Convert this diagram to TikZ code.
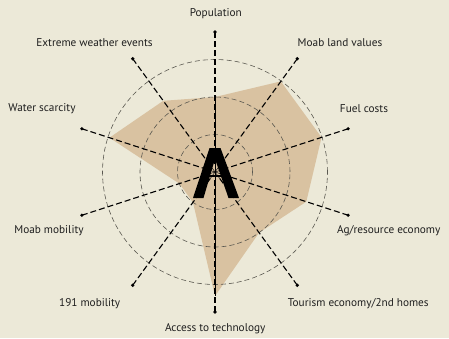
\documentclass[tikz,border=0pt]{standalone}
\usepackage{fontspec}
\setmainfont{PT Sans}
\definecolor{bgc}{RGB}{236,233,216}
\definecolor{polyc}{RGB}{217,194,161}
\definecolor{ringc}{RGB}{90,88,80}
\tikzset{
  ring/.style={draw=ringc, line width=0.6bp, dash pattern=on 5bp off 3bp},
  axisline/.style={draw=black, line width=1.1bp, dash pattern=on 6bp off 3bp},
  spoke/.style={draw=black, line width=0.45bp},
  enddot/.style={circle, fill=black, inner sep=0pt, minimum size=3.6bp},
  lbl/.style={font=\fontsize{11.3}{13}\selectfont, text=black!88, inner sep=0pt},
}
\begin{document}
\begin{tikzpicture}[x=1bp,y=1bp]
\useasboundingbox (-215,-166) rectangle (234,172);
\fill[bgc] (-215,-166) rectangle (234,172);
\coordinate (O) at (0,0);
% data polygon
\coordinate (p1) at (90:75);
\coordinate (p2) at (54:112);
\coordinate (p3) at (18:112);
\coordinate (p4) at (-18:96);
\coordinate (p5) at (-54:75);
\coordinate (p6) at (-90:124);
\coordinate (p7) at (-126:37.5);
\coordinate (p8) at (-162:37.5);
\coordinate (p9) at (162:111);
\coordinate (p10) at (126:88);
\fill[polyc] (p1) -- (p2) -- (p3) -- (p4) -- (p5) -- (p6) -- (p7) -- (p8) -- (p9) -- (p10) -- cycle;
% rings
\draw[ring] (O) circle (37.5);
\draw[ring] (O) circle (75);
\draw[ring] (O) circle (112.5);
% axis ends
\foreach \i/\a in {1/90,2/54,3/18,4/-18,5/-54,6/-90,7/-126,8/-162,9/162,10/126} {
  \coordinate (e\i) at (\a:140);
  \coordinate (s\i) at (\a:8);
}
\foreach \i in {1,...,10} {
  \draw[axisline] (e\i) -- (s\i);
  \draw[spoke] (O) -- (s\i);
}
\foreach \i in {1,...,10} {
  \node[enddot] (d\i) at (e\i) {};
}
\draw[black, line width=0.9bp] (p1) -- (p6);
% central A
\fill[black] (-22,-26) -- (-5.5,24) -- (5.5,24) -- (24,-26) -- (13.5,-26) -- (0,13) -- (-11.5,-26) -- cycle;
\draw[black, line width=2bp] (-6,-4) -- (6.8,-4);
% labels
\node[lbl] (l1) at (0.8,158) {Population};
\node[lbl] (l2) at (125,129) {Moab land values};
\node[lbl] (l3) at (149,63) {Fuel costs};
\node[lbl] (l4) at (173.7,-58.7) {Ag/resource economy};
\node[lbl] (l5) at (143.3,-131.3) {Tourism economy/2nd homes};
\node[lbl] (l6) at (0.2,-157) {Access to technology};
\node[lbl] (l7) at (-125.3,-131.3) {191 mobility};
\node[lbl] (l8) at (-166,-58.7) {Moab mobility};
\node[lbl] (l9) at (-173,63) {Water scarcity};
\node[lbl] (l10) at (-120.5,129) {Extreme weather events};
\end{tikzpicture}
\end{document}
